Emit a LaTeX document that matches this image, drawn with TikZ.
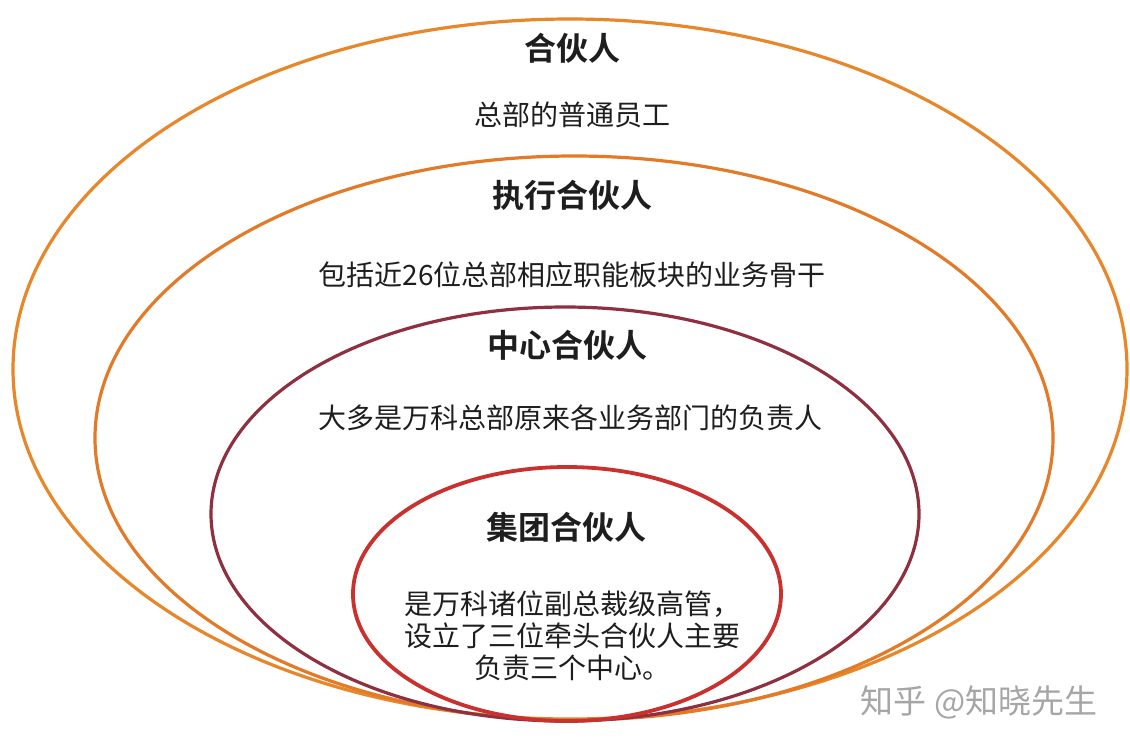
\documentclass[tikz,border=0pt]{standalone}
\usepackage{fontspec}
\setmainfont{Noto Sans CJK SC}
\newfontfamily\cjk{Noto Sans CJK SC}
\newfontfamily\cjkb{Noto Sans CJK SC Bold}
\definecolor{orangeA}{HTML}{E8872A}
\definecolor{orangeB}{HTML}{E27A28}
\definecolor{maroon}{HTML}{8E3040}
\definecolor{redC}{HTML}{C9302E}
\definecolor{txt}{HTML}{1E1E1E}
\begin{document}
\begin{tikzpicture}[x=1pt,y=-1pt,
  ring/.style={line width=3.2pt},
  title/.style={font=\cjkb\fontsize{32}{36}\selectfont, text=txt, inner sep=0pt},
  body/.style={font=\cjk\fontsize{28}{32}\selectfont, text=txt, inner sep=0pt, align=center},
  wmark/.style={font=\cjk\fontsize{33}{36}\selectfont, text=black!35, inner sep=0pt}]
\useasboundingbox[fill=white] (0,0) rectangle (1130,748);
\draw[ring, orangeA] (570,369) ellipse [x radius=557, y radius=350];
\draw[ring, orangeB] (574,438) ellipse [x radius=479, y radius=282];
\draw[ring, maroon] (565,514) ellipse [x radius=354, y radius=207];
\draw[ring, redC, line width=3.8pt] (567,594) ellipse [x radius=214, y radius=127];
\node[title] (t1) at (572,48) {合伙人};
\node[body] (b1) at (572,115) {总部的普通员工};
\node[title] (t2) at (572,195) {执行合伙人};
\node[body] (b2) at (572,275) {包括近26位总部相应职能板块的业务骨干};
\node[title] (t3) at (567,345) {中心合伙人};
\node[body] (b3) at (570,418) {大多是万科总部原来各业务部门的负责人};
\node[title] (t4) at (566,527) {集团合伙人};
\node[body] (b4) at (572,636) {是万科诸位副总裁级高管，\\设立了三位牵头合伙人主要\\负责三个中心。};
\node[wmark] (wm) at (979,702) {知乎 @知晓先生};
\end{tikzpicture}
\end{document}
